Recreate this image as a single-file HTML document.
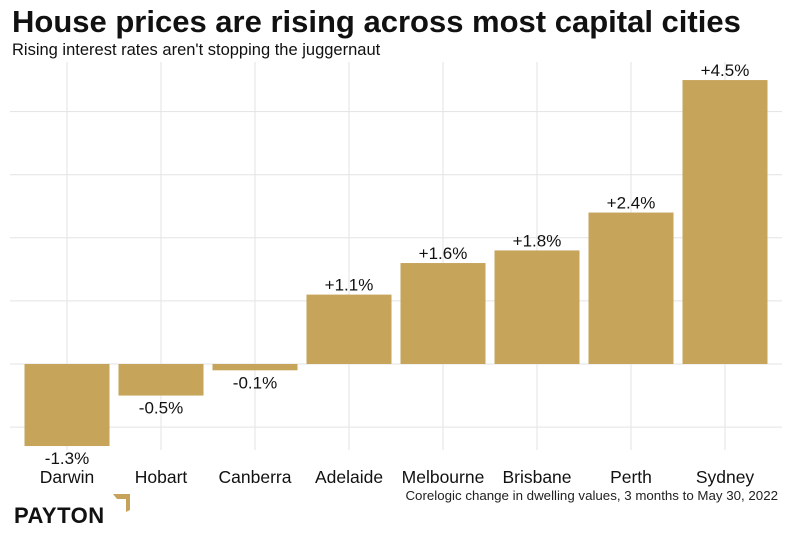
<!DOCTYPE html>
<html><head><meta charset="utf-8"><style>
body{margin:0;width:791px;height:543px;background:#fff;overflow:hidden;font-family:"Liberation Sans",sans-serif}
</style></head><body>
<svg width="791" height="543">
<text x="12" y="32" font-size="31" font-weight="bold" fill="#111">House prices are rising across most capital cities</text>
<text x="12" y="55" font-size="16.5" fill="#111">Rising interest rates aren't stopping the juggernaut</text>
<g id="grid"></g>
<g id="bars"></g>
<text x="778" y="500" font-size="13.3" text-anchor="end" fill="#222">Corelogic change in dwelling values, 3 months to May 30, 2022</text>
<g>
<text x="14" y="523" font-size="22" font-weight="bold" fill="#111" letter-spacing="0.5">PAYTON</text>
<polygon points="113,494 130,494 130,510 126,512 126,499 117,499" fill="#c6a25a"/>
</g>
</svg>
<script>
const categories=["Darwin","Hobart","Canberra","Adelaide","Melbourne","Brisbane","Perth","Sydney"];
const values=[-1.3,-0.5,-0.1,1.1,1.6,1.8,2.4,4.5];
const labels=["-1.3%","-0.5%","-0.1%","+1.1%","+1.6%","+1.8%","+2.4%","+4.5%"];
const gridTicks=[-1,0,1,2,3,4];
const NS="http://www.w3.org/2000/svg";
const x0=20,step=94,bw=85;
const y=v=>364-v*63.1;
const xc=i=>x0+i*step+step/2;
function mk(t,a,p){const e=document.createElementNS(NS,t);for(const k in a)e.setAttribute(k,a[k]);p.appendChild(e);return e;}
const grid=document.getElementById('grid'),bars=document.getElementById('bars');
gridTicks.forEach(t=>{const l=mk('line',{x1:10,x2:782,y1:y(t),y2:y(t),stroke:'#e3e3e3','stroke-width':1},grid);

});
categories.forEach((c,i)=>{const l=mk('line',{x1:xc(i),x2:xc(i),y1:62,y2:450,stroke:'#e3e3e3','stroke-width':1},grid);

});
categories.forEach((c,i)=>{const v=values[i];
const r=mk('rect',{x:xc(i)-bw/2,width:bw,y:Math.min(y(v),y(0)),height:Math.abs(y(v)-y(0)),fill:'#c6a45a'},bars);


const ly=v>=0?y(v)-4:y(v)+18;
const t=mk('text',{x:xc(i),y:ly,'font-size':17,'text-anchor':'middle',fill:'#111'},bars);t.textContent=labels[i];


const ct=mk('text',{x:xc(i),y:483,'font-size':17.5,'text-anchor':'middle',fill:'#111'},bars);ct.textContent=c;

});
</script>
</body></html>
